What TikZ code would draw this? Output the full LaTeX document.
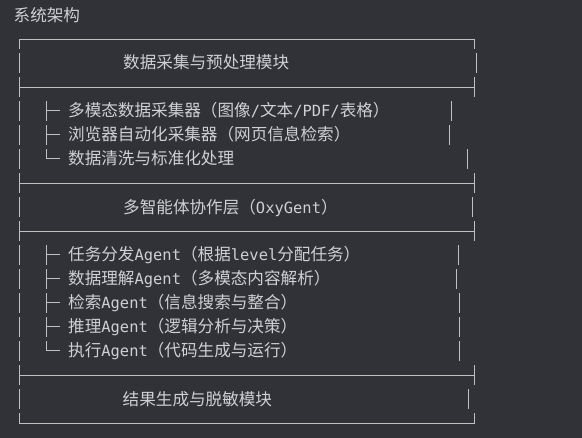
\documentclass[tikz,border=0pt]{standalone}
\usepackage{fontspec}
\usepackage{xcolor}
\usetikzlibrary{positioning}
\newfontfamily\cjk{Noto Sans CJK SC}
\newfontfamily\mono[Scale=0.93]{DejaVu Sans Mono}

\definecolor{codebg}{RGB}{49,50,55}
\definecolor{boxgray}{RGB}{192,192,192}
\definecolor{textgray}{RGB}{206,208,212}

\tikzset{
  boxline/.style={line width=1pt, boxgray},
  txt/.style={anchor=base west, inner sep=0pt, textgray,
    font=\fontsize{16.6}{20}\selectfont\cjk}
}

\begin{document}
\begin{tikzpicture}[x=1pt, y=-1pt]

%background
\fill[codebg] (0,0) rectangle (582,438);

%title
\node[txt] (title) at (13.5,22) {系统架构};

%horizontal rules
\draw[boxline] (19,39.5) -- (474,39.5);
\draw[boxline] (19,87.5) -- (474,87.5);
\draw[boxline] (19,183.5) -- (474,183.5);
\draw[boxline] (19,231.5) -- (474,231.5);
\draw[boxline] (19,376) -- (474,376);
\draw[boxline] (19,424) -- (474,424);

%left border
\draw[boxline] (19,39.5) -- (19,49) (19,53) -- (19,73) (19,77) -- (19,97)
  (19,101) -- (19,121) (19,125) -- (19,145) (19,149) -- (19,169)
  (19,173) -- (19,193) (19,197) -- (19,217) (19,221) -- (19,241)
  (19,245) -- (19,265) (19,269) -- (19,289) (19,293) -- (19,313)
  (19,317) -- (19,337) (19,341) -- (19,361) (19,365) -- (19,385)
  (19,389) -- (19,409) (19,413) -- (19,424);

%right border, as the text set it
\draw[boxline] (474,39.5) -- (474,49) (476,53) -- (476,73) (474,77) -- (474,97)
  (451,101) -- (451,121) (449,125) -- (449,145) (467,149) -- (467,169)
  (474,173) -- (474,193) (472,197) -- (472,217) (474,221) -- (474,241)
  (458,245) -- (458,265) (456,269) -- (456,289) (459.5,293) -- (459.5,313)
  (459.5,317) -- (459.5,337) (459.5,341) -- (459.5,361) (474,365) -- (474,385)
  (468.5,389) -- (468.5,409) (474,413) -- (474,424);

%tree marks
\draw[boxline] (46,101) -- (46,121) (46,111) -- (60,111);
\draw[boxline] (46,125) -- (46,145) (46,135) -- (60,135);
\draw[boxline] (46,149) -- (46,159) -- (60,159);
\draw[boxline] (46,245) -- (46,265) (46,255) -- (60,255);
\draw[boxline] (46,269) -- (46,289) (46,279) -- (60,279);
\draw[boxline] (46,293) -- (46,313) (46,303) -- (60,303);
\draw[boxline] (46,317) -- (46,337) (46,327) -- (60,327);
\draw[boxline] (46,341) -- (46,351) -- (60,351);

%modules
\node[txt] (collect) at (123,69) {数据采集与预处理模块};
\node[txt] (agents) at (123,214) {多智能体协作层（{\mono OxyGent}）};
\node[txt] (result) at (122.5,406) {结果生成与脱敏模块};

%collector items
\node[txt] (multimodal) at (68,117) {多模态数据采集器（图像{\mono /}文本{\mono /PDF/}表格）};
\node[txt] (browser) at (68,141) {浏览器自动化采集器（网页信息检索）};
\node[txt] (cleaning) at (68,165) {数据清洗与标准化处理};

%agent items
\node[txt] (dispatch) at (68,261) {任务分发{\mono Agent}（根据{\mono level}分配任务）};
\node[txt] (understand) at (68,285) {数据理解{\mono Agent}（多模态内容解析）};
\node[txt] (search) at (68,309) {检索{\mono Agent}（信息搜索与整合）};
\node[txt] (reason) at (68,333) {推理{\mono Agent}（逻辑分析与决策）};
\node[txt] (execute) at (68,357) {执行{\mono Agent}（代码生成与运行）};

\end{tikzpicture}
\end{document}
